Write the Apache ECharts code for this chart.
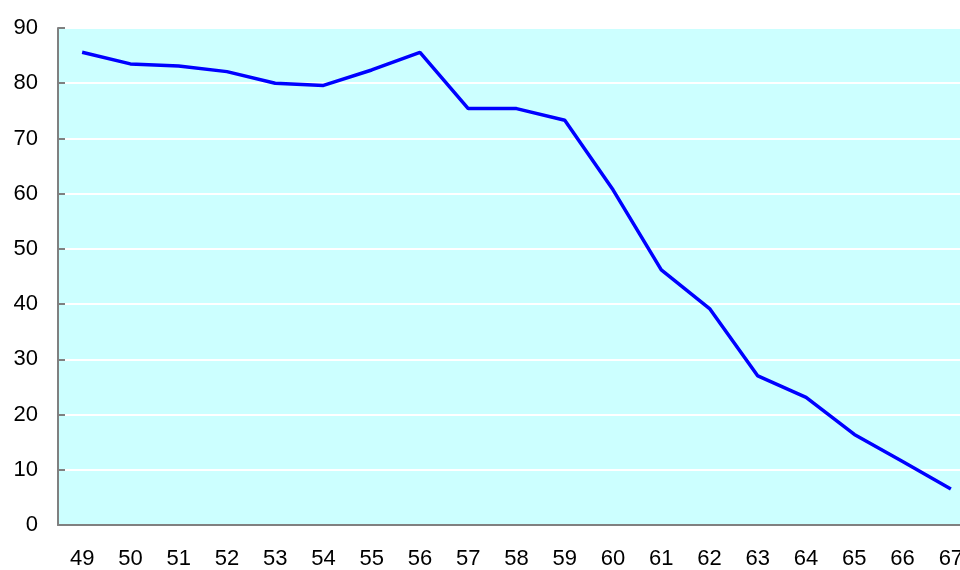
<!DOCTYPE html>
<html lang="en">
<head>
    <meta charset="UTF-8">
    <title>chart</title>
    <script src="https://cdn.jsdelivr.net/npm/echarts@6.0.0/dist/echarts.min.js"></script>
    <style>
        html, body {
            margin: 0;
            padding: 0;
            background: #ffffff;
        }
        #main {
            width: 960px;
            height: 570px;
        }
    </style>
</head>
<body>
<div id="main"></div>
<script type="text/javascript">
    var categories = ['49', '50', '51', '52', '53', '54', '55', '56', '57', '58',
        '59', '60', '61', '62', '63', '64', '65', '66', '67'];
    var values = [85.6, 83.5, 83.1, 82.1, 80.0, 79.6, 82.4, 85.6, 75.4, 75.4,
        73.3, 60.7, 46.2, 39.2, 27.0, 23.1, 16.4, 11.5, 6.5];
    var yTicks = {min: 0, max: 90, interval: 10};

    var myChart = echarts.init(document.getElementById('main'), null, {renderer: 'canvas'});

    var option = {
        animation: false,
        grid: {
            left: 58,
            right: -15,
            top: 28,
            bottom: 45,
            show: true,
            backgroundColor: '#ccffff',
            borderWidth: 0,
            outerBoundsMode: 'none',
            containLabel: false
        },
        xAxis: {
            type: 'category',
            data: categories,
            boundaryGap: true,
            axisLine: {lineStyle: {color: '#808080', width: 2}},
            axisTick: {inside: true, length: 7, lineStyle: {color: '#808080', width: 2}},
            axisLabel: {
                color: '#000000',
                fontSize: 22,
                fontFamily: 'Liberation Sans, Arial, sans-serif',
                margin: 23
            }
        },
        yAxis: {
            type: 'value',
            min: yTicks.min,
            max: yTicks.max,
            interval: yTicks.interval,
            axisLine: {show: true, lineStyle: {color: '#808080', width: 2}},
            axisTick: {show: true, inside: true, length: 7, lineStyle: {color: '#808080', width: 2}},
            splitLine: {lineStyle: {color: '#ffffff', width: 2}},
            axisLabel: {
                color: '#000000',
                fontSize: 22,
                fontFamily: 'Liberation Sans, Arial, sans-serif',
                margin: 20
            }
        },
        series: [
            {
                type: 'line',
                data: values,
                symbol: 'none',
                lineStyle: {color: '#0000ff', width: 3.5}
            }
        ]
    };

    myChart.setOption(option);
</script>
</body>
</html>
